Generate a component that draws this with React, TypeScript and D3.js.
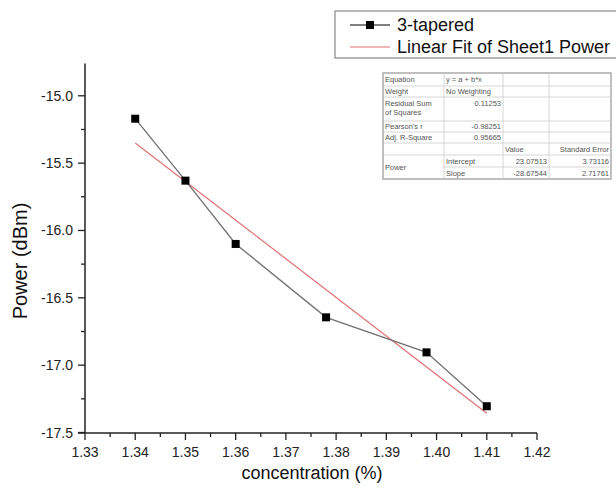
import React, { useEffect, useRef } from 'react';
import * as d3 from 'd3';

// measured points (3-tapered)
const concentration = [1.34, 1.35, 1.36, 1.378, 1.398, 1.41];
const power = [-15.17, -15.63, -16.1, -16.645, -16.905, -17.305];

// linear fit from the table
const fitIntercept = 23.07513;
const fitSlope = -28.67544;
const fitRange = [1.34, 1.41];

const xTicks = [1.33, 1.34, 1.35, 1.36, 1.37, 1.38, 1.39, 1.4, 1.41, 1.42];
const yTicks = [-17.5, -17.0, -16.5, -16.0, -15.5, -15.0];

const legendLabels = ['3-tapered', 'Linear Fit of Sheet1 Power'];

// stats table rows, "|" splits a cell into two lines
const tableRows = [
    ['Equation', 'y = a + b*x', '', ''],
    ['Weight', 'No Weighting', '', ''],
    ['Residual Sum|of Squares', '0.11253', '', ''],
    ["Pearson's r", '-0.98251', '', ''],
    ['Adj. R-Square', '0.95665', '', ''],
    ['', '', 'Value', 'Standard Error'],
    ['Power', 'Intercept', '23.07513', '3.73116'],
    ['', 'Slope', '-28.67544', '2.71761'],
];

const FONT = '"Liberation Sans", Arial, sans-serif';

export default function App() {
    const svgRef = useRef<SVGSVGElement>(null);

    useEffect(() => {
        const svg = d3.select(svgRef.current);
        svg.selectAll('*').remove();

        const x = d3.scaleLinear().domain([1.33, 1.42]).range([85, 537]);
        const y = d3.scaleLinear().domain([-17.5, -15.0]).range([432.5, 95.8]);
        const yTop = y(-14.76);

        const axisColor = '#222';
        const hyphen = (s: string) => s.replace('\u2212', '-');

        // y axis
        const gy = svg.append('g');
        gy.append('line').attr('x1', 85).attr('x2', 85).attr('y1', yTop).attr('y2', 433)
            .attr('stroke', axisColor).attr('stroke-width', 1.5);
        d3.range(-17.25, -14.76, 0.5).forEach(v => {
            gy.append('line').attr('x1', 81).attr('x2', 85).attr('y1', y(v)).attr('y2', y(v))
                .attr('stroke', axisColor).attr('stroke-width', 1.3);
        });
        yTicks.forEach(v => {
            gy.append('line').attr('x1', 78).attr('x2', 85).attr('y1', y(v)).attr('y2', y(v))
                .attr('stroke', axisColor).attr('stroke-width', 1.3);
            gy.append('text').attr('x', 73).attr('y', y(v) + 5)
                .attr('text-anchor', 'end').attr('font-size', 14).attr('font-family', FONT)
                .attr('fill', '#222').text(hyphen(d3.format('.1f')(v)));
        });

        // x axis
        const gx = svg.append('g');
        gx.append('line').attr('x1', 78).attr('x2', 537).attr('y1', 433).attr('y2', 433)
            .attr('stroke', axisColor).attr('stroke-width', 1.5);
        d3.range(1.335, 1.42, 0.01).forEach(v => {
            gx.append('line').attr('x1', x(v)).attr('x2', x(v)).attr('y1', 433).attr('y2', 437)
                .attr('stroke', axisColor).attr('stroke-width', 1.3);
        });
        xTicks.forEach(v => {
            gx.append('line').attr('x1', x(v)).attr('x2', x(v)).attr('y1', 433).attr('y2', 440)
                .attr('stroke', axisColor).attr('stroke-width', 1.3);
            gx.append('text').attr('x', x(v)).attr('y', 457)
                .attr('text-anchor', 'middle').attr('font-size', 14).attr('font-family', FONT)
                .attr('fill', '#222').text(d3.format('.2f')(v));
        });

        // axis titles
        svg.append('text').attr('x', 312).attr('y', 479).attr('text-anchor', 'middle')
            .attr('font-size', 18).attr('font-family', FONT).attr('fill', '#111')
            .text('concentration (%)');
        svg.append('text').attr('transform', 'translate(27,261) rotate(-90)')
            .attr('text-anchor', 'middle').attr('font-size', 20).attr('font-family', FONT)
            .attr('fill', '#111').text('Power (dBm)');

        // fit line
        const fitLine = d3.line<number>().x(d => x(d)).y(d => y(fitIntercept + fitSlope * d));
        svg.append('path').attr('d', fitLine(fitRange)).attr('fill', 'none')
            .attr('stroke', '#e07070').attr('stroke-width', 1.2);

        // data line
        const pts = concentration.map((c, i) => [c, power[i]] as [number, number]);
        const dataLine = d3.line<[number, number]>().x(d => x(d[0])).y(d => y(d[1]));
        svg.append('path').attr('d', dataLine(pts)).attr('fill', 'none')
            .attr('stroke', '#707070').attr('stroke-width', 1.3);
        svg.selectAll('.pt').data(pts).enter().append('rect')
            .attr('x', d => x(d[0]) - 4).attr('y', d => y(d[1]) - 4)
            .attr('width', 8).attr('height', 8).attr('fill', '#000');

        // legend
        const lg = svg.append('g');
        lg.append('rect').attr('x', 335).attr('y', 11).attr('width', 300).attr('height', 47)
            .attr('fill', 'white').attr('stroke', '#888').attr('stroke-width', 1.2);
        lg.append('line').attr('x1', 350).attr('x2', 390).attr('y1', 25).attr('y2', 25)
            .attr('stroke', '#555').attr('stroke-width', 1.3);
        lg.append('rect').attr('x', 366).attr('y', 21).attr('width', 8).attr('height', 8).attr('fill', '#000');
        lg.append('line').attr('x1', 350).attr('x2', 390).attr('y1', 47).attr('y2', 47)
            .attr('stroke', '#e07070').attr('stroke-width', 1.2);
        legendLabels.forEach((t, i) => {
            lg.append('text').attr('x', 397).attr('y', 31 + i * 22).attr('font-size', 18)
                .attr('font-family', FONT).attr('fill', '#111').text(t);
        });

        // stats table
        const colX = [383, 444, 503, 549, 611];
        const rowY = [73, 86, 97, 121, 132, 143, 155, 167, 179];
        const tg = svg.append('g');
        tg.append('rect').attr('x', colX[0]).attr('y', rowY[0])
            .attr('width', colX[4] - colX[0]).attr('height', rowY[8] - rowY[0])
            .attr('fill', 'white').attr('stroke', '#aaa').attr('stroke-width', 1.5);
        rowY.slice(1, -1).forEach((ry, i) => {
            // last divider does not cross the "Power" cell
            const x1 = i === 6 ? colX[1] : colX[0];
            tg.append('line').attr('x1', x1).attr('x2', colX[4]).attr('y1', ry).attr('y2', ry)
                .attr('stroke', '#ccc').attr('stroke-width', 0.8);
        });
        colX.slice(1, -1).forEach(cx => {
            tg.append('line').attr('x1', cx).attr('x2', cx).attr('y1', rowY[0]).attr('y2', rowY[8])
                .attr('stroke', '#ccc').attr('stroke-width', 0.8);
        });
        const txt = (t: string, tx: number, ty: number, anchor: string) =>
            tg.append('text').attr('x', tx).attr('y', ty).attr('text-anchor', anchor)
                .attr('font-size', 7.5).attr('font-family', FONT).attr('fill', '#555').text(t);
        tableRows.forEach((row, r) => {
            const top = rowY[r];
            const bottom = rowY[r + 1];
            row.forEach((cell, c) => {
                if (!cell) return;
                const numeric = /^-?\d/.test(cell);
                const anchor = numeric || cell === 'Standard Error' ? 'end' : 'start';
                const tx = anchor === 'end' ? colX[c + 1] - 2 : colX[c] + 2;
                if (cell.includes('|')) {
                    cell.split('|').forEach((p, k) => txt(p, tx, top + 9 + k * 9, anchor));
                } else if (r === 6 && c === 0) {
                    txt(cell, tx, rowY[7] + 2.5, anchor);
                } else {
                    const ty = numeric && bottom - top > 14 ? top + 9 : (top + bottom) / 2 + 2.8;
                    txt(cell, tx, ty, anchor);
                }
            });
        });
    }, []);

    return (
        <svg ref={svgRef} width={616} height={491}
            style={{ position: 'absolute', left: 0, top: 0, background: 'white' }} />
    );
}
